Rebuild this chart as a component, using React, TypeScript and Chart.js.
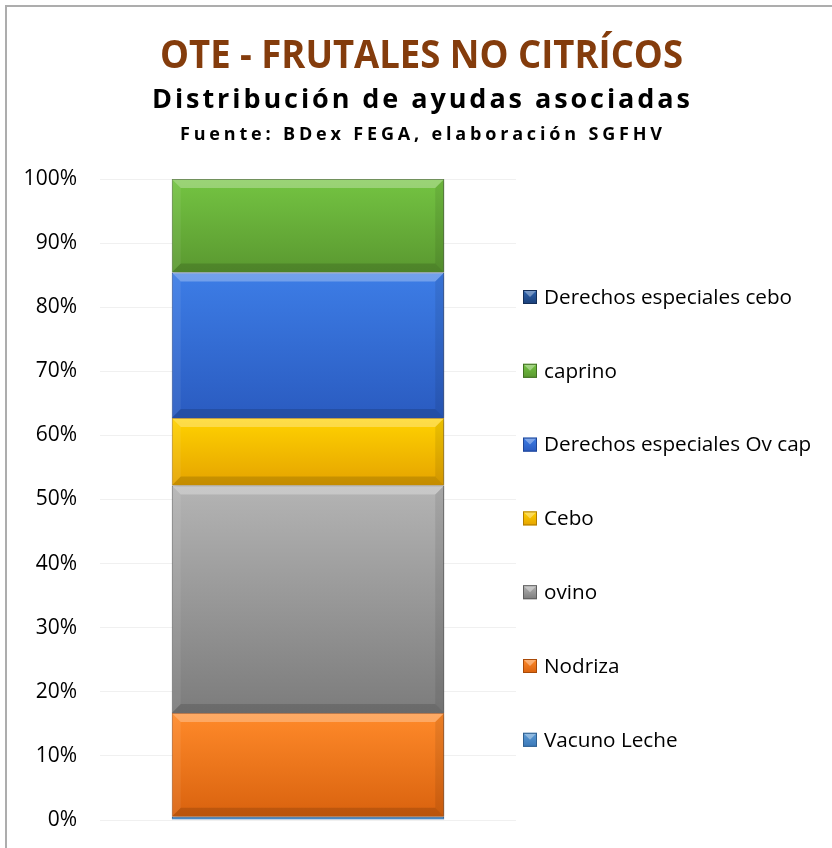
import React, { useEffect, useRef } from "react";
import { Chart, registerables } from "chart.js";

Chart.register(...registerables);

// ---------- data ----------
const categories = ["OTE - FRUTALES NO CITRÍCOS"];
const seriesNames = [
  "Vacuno Leche",
  "Nodriza",
  "ovino",
  "Cebo",
  "Derechos especiales Ov cap",
  "caprino",
  "Derechos especiales cebo",
];
const vacunoLeche = [0.5];
const nodriza = [16.2];
const ovino = [35.5];
const cebo = [10.5];
const derechosOvCap = [22.7];
const caprino = [14.6];
const derechosCebo = [0];
const yTickValues = [0, 10, 20, 30, 40, 50, 60, 70, 80, 90, 100];

const titleText = "OTE - FRUTALES NO CITRÍCOS";
const subtitleText = "Distribución de ayudas asociadas";
const sourceText = "Fuente: BDex FEGA, elaboración SGFHV";

// ---------- styles ----------
const seriesValues = [vacunoLeche, nodriza, ovino, cebo, derechosOvCap, caprino, derechosCebo];
// [top colour, bottom colour, border]
const seriesColors: [string, string, string][] = [
  ["#5B9BD5", "#3A78B8", "#2F5F90"],
  ["#FF8A2A", "#D9620E", "#A84A08"],
  ["#B4B4B4", "#7C7C7C", "#5E5E5E"],
  ["#FFD200", "#E5A300", "#B07D00"],
  ["#3D7DE6", "#2A5BC0", "#1E4596"],
  ["#74C442", "#5A9830", "#417022"],
  ["#2E64B0", "#1B3F78", "#142E58"],
];
const FONT = "'Open Sans', 'DejaVu Sans', sans-serif";

const framePlugin = {
  id: "frameTitles",
  beforeDraw(chart: any) {
    const ctx = chart.ctx;
    ctx.save();
    ctx.fillStyle = "#ffffff";
    ctx.fillRect(0, 0, chart.width, chart.height);
    ctx.strokeStyle = "#ADADAD";
    ctx.lineWidth = 2;
    ctx.strokeRect(6, 6, 900, 900);
    ctx.restore();
  },
  afterDraw(chart: any) {
    const ctx = chart.ctx;
    ctx.save();
    ctx.textBaseline = "alphabetic";
    ctx.textAlign = "left";
    const drawFit = (text: string, font: string, color: string, cx: number, y: number, width: number, mode: "scale" | "space") => {
      ctx.font = font;
      ctx.fillStyle = color;
      (ctx as any).letterSpacing = "0px";
      const w = ctx.measureText(text).width;
      if (mode === "scale") {
        ctx.save();
        ctx.translate(cx - width / 2, y);
        ctx.scale(width / w, 1);
        ctx.fillText(text, 0, 0);
        ctx.restore();
      } else {
        const sp = Math.max(0, (width - w) / (text.length - 1));
        (ctx as any).letterSpacing = sp + "px";
        ctx.fillText(text, cx - width / 2, y);
        (ctx as any).letterSpacing = "0px";
      }
    };
    drawFit(titleText, `bold 40px ${FONT}`, "#843C0C", 421.5, 68, 523, "scale");
    drawFit(subtitleText, `bold 27px ${FONT}`, "#000000", 421, 108, 538, "space");
    drawFit(sourceText, `bold 18px ${FONT}`, "#000000", 421, 140, 482, "space");

    // legend (reverse order)
    const legendTop = 297;
    const legendStep = 73.8;
    ctx.font = `20.7px ${FONT}`;
    ctx.textBaseline = "middle";
    for (let k = 0; k < seriesNames.length; k++) {
      const i = seriesNames.length - 1 - k;
      const cy = legendTop + k * legendStep;
      const [top, bot, border] = seriesColors[i];
      const g = ctx.createLinearGradient(0, cy - 7, 0, cy + 7);
      g.addColorStop(0, top);
      g.addColorStop(1, bot);
      ctx.fillStyle = g;
      ctx.fillRect(523, cy - 7, 14, 14);
      ctx.fillStyle = "rgba(255,255,255,0.35)";
      ctx.beginPath();
      ctx.moveTo(523, cy - 7);
      ctx.lineTo(537, cy - 7);
      ctx.lineTo(530, cy);
      ctx.closePath();
      ctx.fill();
      ctx.strokeStyle = border;
      ctx.lineWidth = 1;
      ctx.strokeRect(523.5, cy - 6.5, 13, 13);
      ctx.fillStyle = "#000000";
      ctx.fillText(seriesNames[i], 544, cy + 1);
    }
    ctx.restore();
  },
  beforeDatasetsDraw(chart: any) {
    const ctx = chart.ctx;
    ctx.save();
    ctx.shadowColor = "rgba(0,0,0,0.28)";
    ctx.shadowBlur = 5;
    ctx.shadowOffsetX = 2;
    ctx.shadowOffsetY = 1;
  },
  afterDatasetsDraw(chart: any) {
    const ctx = chart.ctx;
    ctx.restore();
    ctx.save();
    chart.data.datasets.forEach((ds: any, di: number) => {
      const meta = chart.getDatasetMeta(di);
      meta.data.forEach((el: any) => {
        const { x, y, base, width } = el.getProps(["x", "y", "base", "width"], true);
        const l = x - width / 2;
        const r = x + width / 2;
        const t = Math.min(y, base);
        const b = Math.max(y, base);
        const h = b - t;
        if (h < 6) return;
        const bv = Math.min(9, h / 2);
        ctx.fillStyle = "rgba(255,255,255,0.28)";
        ctx.beginPath();
        ctx.moveTo(l, t); ctx.lineTo(r, t); ctx.lineTo(r - bv, t + bv); ctx.lineTo(l + bv, t + bv);
        ctx.closePath(); ctx.fill();
        ctx.fillStyle = "rgba(0,0,0,0.14)";
        ctx.beginPath();
        ctx.moveTo(l, b); ctx.lineTo(r, b); ctx.lineTo(r - bv, b - bv); ctx.lineTo(l + bv, b - bv);
        ctx.closePath(); ctx.fill();
        ctx.fillStyle = "rgba(255,255,255,0.07)";
        ctx.beginPath();
        ctx.moveTo(l, t); ctx.lineTo(l + bv, t + bv); ctx.lineTo(l + bv, b - bv); ctx.lineTo(l, b);
        ctx.closePath(); ctx.fill();
        ctx.fillStyle = "rgba(0,0,0,0.08)";
        ctx.beginPath();
        ctx.moveTo(r, t); ctx.lineTo(r - bv, t + bv); ctx.lineTo(r - bv, b - bv); ctx.lineTo(r, b);
        ctx.closePath(); ctx.fill();
      });
    });
    ctx.restore();
  },
};

export default function App() {
  const ref = useRef<HTMLCanvasElement | null>(null);
  useEffect(() => {
    if (!ref.current) return;
    const makeBg = (i: number) => (c: any) => {
      const chart = c.chart;
      const ys = chart.scales?.y;
      const [top, bot] = seriesColors[i];
      if (!ys || !chart.chartArea) return top;
      let start = 0;
      for (let k = 0; k < i; k++) start += seriesValues[k][c.dataIndex] || 0;
      const end = start + (seriesValues[i][c.dataIndex] || 0);
      const y0 = ys.getPixelForValue(end);
      const y1 = ys.getPixelForValue(start);
      if (!isFinite(y0) || !isFinite(y1) || y1 - y0 < 1) return top;
      const g = chart.ctx.createLinearGradient(0, y0, 0, y1);
      g.addColorStop(0, top);
      g.addColorStop(1, bot);
      return g;
    };
    const chart = new Chart(ref.current, {
      type: "bar",
      data: {
        labels: categories,
        datasets: seriesNames.map((name, i) => ({
          label: name,
          data: seriesValues[i],
          backgroundColor: makeBg(i),
          borderColor: seriesColors[i][2],
          borderWidth: 1,
          barPercentage: 0.655,
          categoryPercentage: 1,
        })),
      },
      options: {
        responsive: false,
        animation: false,
        layout: { padding: { top: 179, left: 6, right: 316, bottom: 28 } },
        plugins: {
          legend: { display: false },
          title: { display: false },
          tooltip: { enabled: false },
        },
        scales: {
          x: { stacked: true, display: false },
          y: {
            stacked: true,
            min: 0,
            max: 100,
            afterFit: (s: any) => { s.width = 94; },
            afterBuildTicks: (s: any) => { s.ticks = yTickValues.map((v) => ({ value: v })); },
            border: { display: false },
            grid: { color: "#F0F0F0", drawTicks: true, tickLength: 23, tickColor: "rgba(0,0,0,0)", lineWidth: 1 },
            ticks: {
              padding: 0,
              color: "#000000",
              font: { family: FONT, size: 21 },
              callback: (v: any) => v + "%",
            },
          },
        },
      },
      plugins: [framePlugin],
    });
    return () => chart.destroy();
  }, []);
  return (
    <div style={{ position: "absolute", left: 0, top: 0, width: 832, height: 848 }}>
      <canvas ref={ref} width={832} height={848} />
    </div>
  );
}
